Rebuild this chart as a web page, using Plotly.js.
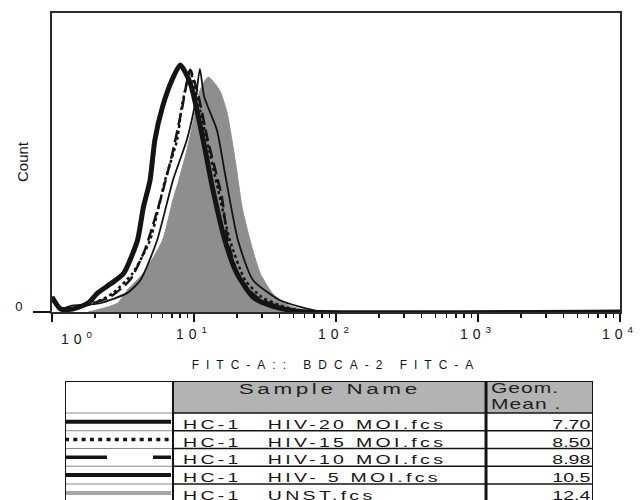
<!DOCTYPE html>
<html>
<head>
<meta charset="utf-8">
<script src="https://cdn.plot.ly/plotly-3.0.1.min.js"></script>
<style>
  html, body { margin: 0; padding: 0; background: #fff; }
  #chart { width: 643px; height: 500px; }
</style>
<style id="stretch"></style>
</head>
<body>
<div id="chart"></div>
<script>
// ---- data ----
// fluorescence (FITC-A) bin positions and counts (% of plot height) per sample
const xUNST = [1.8, 2.4, 2.9, 3.4, 4.4, 6.0, 7.1, 7.7, 8.9, 9.8, 11.0, 12.6, 15.2, 17.1, 18.5, 20.1, 21.8, 24.8, 29.2, 36, 45, 56, 70];
const yUNST = [0, 1.5, 3, 7.4, 13, 24, 37.5, 43, 54, 63, 74, 78.6, 74, 66.6, 57.5, 46.5, 35, 24, 13, 6, 2.5, 1, 0];

const xHIV20 = [1.0, 1.15, 1.4, 1.8, 2.1, 2.6, 3.2, 4.0, 4.4, 4.9, 5.3, 6.0, 7.0, 8.0, 9.4, 11.6, 13.6, 16.5, 20, 26, 34, 45, 60, 10000];
const yHIV20 = [5, 1, 1, 3, 6.4, 9.5, 13, 24, 35, 44, 57.5, 68.6, 77.6, 82.6, 76.6, 57.5, 40.8, 24, 13, 5, 2.3, 0.8, 0, 0];

const xHIV15 = [1.0, 1.15, 1.4, 1.8, 2.2, 2.7, 3.7, 4.9, 6.25, 7.6, 8.2, 9.4, 11.0, 12.3, 14.8, 17.9, 22.9, 30, 40, 55, 10000];
const yHIV15 = [5, 1, 1, 2.5, 4, 6.4, 13, 24, 44, 57.5, 68.6, 80.3, 67.6, 57.5, 40.8, 24, 10.7, 5, 2.3, 0.5, 0];

const xHIV10 = [1.0, 1.15, 1.4, 1.8, 2.56, 3.54, 4.5, 5.8, 7.0, 8.2, 9.4, 10.7, 12.5, 15.7, 17.3, 21.1, 28.3, 37, 50, 10000];
const yHIV10 = [5, 1, 1, 2.5, 5, 10.7, 20.7, 37.5, 52.5, 67.6, 81, 72.6, 57.5, 38.5, 24, 10.7, 4.7, 2.3, 0.5, 0];

const xHIV5 = [1.0, 1.15, 1.34, 1.8, 2.2, 3.4, 4.2, 5.5, 7.1, 8.9, 10.2, 11.0, 11.8, 14.5, 16.5, 20.4, 26, 40, 56, 75, 10000];
const yHIV5 = [5, 1, 2, 2.5, 3, 6.4, 10.7, 24, 44, 57.5, 70, 81.3, 72, 60.9, 46.5, 24, 10.7, 4, 1.7, 0.3, 0];

const sampleNames = ['HC-1   HIV-20 MOI.fcs', 'HC-1   HIV-15 MOI.fcs', 'HC-1   HIV-10 MOI.fcs', 'HC-1   HIV- 5 MOI.fcs', 'HC-1   UNST.fcs'];
const geomMeans = [7.70, 8.50, 8.98, 10.5, 12.4];
const headerLabels = ['Sample Name', 'Geom.', 'Mean .'];

const xTickVals = [1, 10, 100, 1000, 10000];
const xTickSup = ['0', '1', '2', '3', '4'];
const xTitle = 'FITC-A:: BDCA-2 FITC-A';
const yTitle = 'Count';

// ---- styles ----
const FONT = 'Liberation Sans, Arial, sans-serif';
const INK = '#141414';
const TXT = '#151515';
const sp = (s, t) => '<span style="letter-spacing:' + s + 'px">' + t + '</span>';

const plotStyles = [
  {color: INK, width: 5, dash: 'solid'},          // HIV-20
  {color: INK, width: 2.5, dash: 'dot'},          // HIV-15
  {color: INK, width: 2.5, dash: '12px,5px'},     // HIV-10
  {color: INK, width: 1.8, dash: 'solid'}         // HIV-5
];
const legendStyles = [
  {color: INK, width: 4, dash: 'solid'},
  {color: INK, width: 3.5, dash: '4px,4.3px'},
  {color: INK, width: 3.5, dash: '42px,46px'},
  {color: INK, width: 4, dash: 'solid'},
  {color: '#a6a6a6', width: 4, dash: 'solid'}
];

// table geometry (x2: px from table left, y2: px from table top)
const colEdges = [0, 108, 421, 528];
const headerH = 32, rowH = 17.75;

const seriesX = [xHIV20, xHIV15, xHIV10, xHIV5];
const seriesY = [yHIV20, yHIV15, yHIV10, yHIV5];

const traces = [];
traces.push({
  type: 'scatter', mode: 'lines', x: xUNST, y: yUNST,
  fill: 'tozeroy', fillcolor: '#8e8e8e',
  line: {color: '#8e8e8e', width: 1, shape: 'spline', smoothing: 0.6},
  hoverinfo: 'skip'
});
for (let i = 0; i < seriesX.length; i++) {
  traces.push({
    type: 'scatter', mode: 'lines', x: seriesX[i], y: seriesY[i],
    line: {color: plotStyles[i].color, width: plotStyles[i].width, dash: plotStyles[i].dash, shape: 'spline', smoothing: 0.6},
    hoverinfo: 'skip'
  });
}
// legend line samples in first table column
for (let i = 0; i < sampleNames.length; i++) {
  const yc = headerH + rowH * (i + 0.5);
  traces.push({
    type: 'scatter', mode: 'lines', x: [colEdges[0], colEdges[1] - 2], y: [yc, yc],
    xaxis: 'x2', yaxis: 'y2',
    line: {color: legendStyles[i].color, width: legendStyles[i].width, dash: legendStyles[i].dash},
    hoverinfo: 'skip'
  });
}

// table shapes
const shapes = [];
shapes.push({type: 'rect', xref: 'x2', yref: 'y2', x0: colEdges[1], x1: colEdges[3], y0: 0, y1: headerH,
  fillcolor: '#b3b3b3', line: {width: 0}, layer: 'below'});
for (let i = 0; i <= sampleNames.length; i++) {
  const y = headerH + rowH * i;
  shapes.push({type: 'line', xref: 'x2', yref: 'y2', x0: colEdges[0], x1: colEdges[1], y0: y, y1: y,
    line: {color: '#8a8a8a', width: 1}});
  shapes.push({type: 'line', xref: 'x2', yref: 'y2', x0: colEdges[1], x1: colEdges[3], y0: y, y1: y,
    line: {color: INK, width: 1.5}});
}
shapes.push({type: 'line', xref: 'x2', yref: 'y2', x0: colEdges[0], x1: colEdges[3], y0: 0, y1: 0,
  line: {color: INK, width: 2}});
colEdges.forEach((x, j) => {
  shapes.push({type: 'line', xref: 'x2', yref: 'y2', x0: x, x1: x, y0: 0, y1: 130,
    line: {color: INK, width: j === 2 ? 3 : 2}});
});

// annotations (table texts get a horizontal stretch, as in the reference)
const annotations = [];
const stretch = [];
function addAnn(a, origin) {
  if (origin) stretch.push({i: annotations.length, origin: origin});
  annotations.push(a);
}
addAnn({text: yTitle, xref: 'paper', yref: 'paper', x: -0.0528, y: 0.694, textangle: -90,
  xanchor: 'center', yanchor: 'middle', showarrow: false,
  font: {family: 'Liberation Sans Narrow, Liberation Sans, Arial', size: 15, color: TXT}}, null);
addAnn({text: sp(5, '10<sup>' + xTickSup[0] + '</sup>'), xref: 'paper', yref: 'paper',
  x: 0.0475, y: 0.333, xanchor: 'center', yanchor: 'middle', showarrow: false,
  font: {family: FONT, size: 14, color: TXT}}, null);
addAnn({text: sp(2.4, headerLabels[0]), xref: 'x2', yref: 'y2', x: (colEdges[1] + colEdges[2]) / 2, y: 7.5,
  xanchor: 'center', yanchor: 'middle', showarrow: false, font: {family: FONT, size: 15, color: '#222'}}, 'center');
addAnn({text: sp(0.7, headerLabels[1]), xref: 'x2', yref: 'y2', x: colEdges[2] + 3, y: 7.5,
  xanchor: 'left', yanchor: 'middle', showarrow: false, font: {family: FONT, size: 14, color: '#222'}}, 'left');
addAnn({text: sp(0.7, headerLabels[2]), xref: 'x2', yref: 'y2', x: colEdges[2] + 3, y: 23.5,
  xanchor: 'left', yanchor: 'middle', showarrow: false, font: {family: FONT, size: 14, color: '#222'}}, 'left');
for (let i = 0; i < sampleNames.length; i++) {
  const yc = headerH + rowH * i + 11.5;
  addAnn({text: sp(2.2, sampleNames[i].replace(/ /g, '\u00a0')), xref: 'x2', yref: 'y2',
    x: colEdges[1] + 8, y: yc, xanchor: 'left', yanchor: 'middle', showarrow: false,
    font: {family: FONT, size: 13, color: TXT}}, 'left');
  addAnn({text: geomMeans[i].toPrecision(3), xref: 'x2', yref: 'y2',
    x: colEdges[3] - 1, y: yc, xanchor: 'right', yanchor: 'middle', showarrow: false,
    font: {family: FONT, size: 13, color: TXT}}, 'right');
}
document.getElementById('stretch').textContent = stretch.map(s =>
  'g.annotation[data-index="' + s.i + '"] text { transform-box: fill-box; transform-origin: ' + s.origin +
  ' center; transform: scaleX(1.5); }').join('\n');

const layout = {
  width: 643, height: 500,
  margin: {l: 52, r: 23, t: 13, b: 0, pad: 0},
  paper_bgcolor: 'white', plot_bgcolor: 'white',
  showlegend: false,
  font: {family: FONT, color: INK},
  xaxis: {
    type: 'log', range: [0, 4], domain: [0, 1], anchor: 'y',
    showline: true, linecolor: '#2a2a2a', linewidth: 2, mirror: true,
    ticks: 'outside', ticklen: 8, tickwidth: 1.5, tickcolor: INK,
    tickmode: 'array', tickvals: xTickVals,
    ticktext: xTickSup.map((s, i) => i === 0 ? '' : sp(5, '10<sup>' + s + '</sup>')),
    tickfont: {family: FONT, size: 14, color: TXT},
    minor: {dtick: 'D1', ticks: 'outside', ticklen: 4, tickwidth: 1.5, tickcolor: INK, showgrid: false},
    showgrid: false, zeroline: false, automargin: false, fixedrange: true,
    title: {text: sp(7, xTitle), font: {family: FONT, size: 12, color: TXT}, standoff: 20}
  },
  yaxis: {
    domain: [0.386, 1], range: [0, 100], anchor: 'x',
    showline: true, linecolor: '#2a2a2a', linewidth: 2, mirror: true,
    ticks: 'outside', ticklen: 17, tickwidth: 1.5, tickcolor: INK,
    tickmode: 'array', tickvals: [0], ticktext: ['0'],
    tickfont: {family: FONT, size: 13, color: TXT},
    ticklabelstandoff: 8, ticklabelshift: -6,
    showgrid: false, zeroline: false, automargin: false, fixedrange: true
  },
  xaxis2: {domain: [0.0229, 0.9525], range: [0, 528], anchor: 'y2', visible: false, fixedrange: true},
  yaxis2: {domain: [0, 0.2444], range: [119, 0], anchor: 'x2', visible: false, fixedrange: true},
  shapes: shapes,
  annotations: annotations
};

Plotly.newPlot('chart', traces, layout, {staticPlot: true, displayModeBar: false});
</script>
</body>
</html>
